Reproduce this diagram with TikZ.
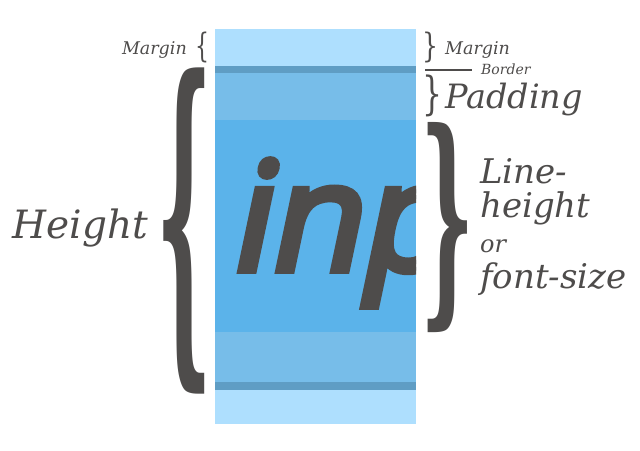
\documentclass[tikz,border=0pt]{standalone}
\usepackage{xcolor}
\usepackage{graphicx}
\usepackage{fontspec}
\usepackage{tikz}
\usetikzlibrary{positioning}

\newfontfamily\labelserif{DejaVu Serif}
\newfontfamily\samplesans{Open Sans}[FakeSlant=0.21, FakeBold=5]

\definecolor{ink}{HTML}{4E4C4B}
\definecolor{marginblue}{HTML}{AEDFFE}
\definecolor{borderblue}{HTML}{5F9DC4}
\definecolor{paddingblue}{HTML}{77BDE9}
\definecolor{contentblue}{HTML}{5BB3EA}

\newcommand{\lblsize}[1]{\fontsize{#1}{#1}\selectfont}

\begin{document}
\begin{tikzpicture}[
    x=1pt, y=-1pt,
    layer/.style={fill=#1, draw=none},
    lbl/.style={text=ink, inner sep=0pt, font=\labelserif\itshape\lblsize{#1}},
    lbl/.default=17.5,
    bracket/.style={text=ink, inner sep=0pt, font=\labelserif\bfseries},
    smallbracket/.style={text=ink, inner sep=0pt, font=\labelserif}
  ]
    \useasboundingbox (0,0) rectangle (640,450);

    % the box, top to bottom
    \fill[layer=marginblue]  (215,29)  rectangle (416,66);
    \fill[layer=borderblue]  (215,66)  rectangle (416,73);
    \fill[layer=paddingblue] (215,73)  rectangle (416,120);
    \fill[layer=contentblue] (215,120) rectangle (416,332);
    \fill[layer=paddingblue] (215,332) rectangle (416,382);
    \fill[layer=borderblue]  (215,382) rectangle (416,390);
    \fill[layer=marginblue]  (215,390) rectangle (416,424);

    \begin{scope}
      \clip (215,29) rectangle (416,424);
      \node[text=ink, inner sep=0pt, anchor=base west,
            font=\samplesans\lblsize{150}] (inp) at (228,270)
            {\makebox[180pt][l]{inp}};
    \end{scope}

    % braces
    \node[smallbracket, anchor=north west] (lmarginbrace) at (195,32) {\resizebox*{14pt}{31pt}{\{}};
    \node[bracket, anchor=north west] (heightbrace) at (156,68) {\resizebox*{56pt}{326pt}{\{}};
    \node[smallbracket, anchor=north west] (rmarginbrace) at (422,32) {\resizebox*{16pt}{31pt}{\}}};
    \node[smallbracket, anchor=north west] (paddingbrace) at (422,75) {\resizebox*{20pt}{42pt}{\}}};
    \node[bracket, anchor=north west] (lhbrace) at (420,122) {\resizebox*{54pt}{210pt}{\}}};

    % labels
    \node[lbl, anchor=base east] (lmargin) at (187,54) {Margin};
    \node[lbl, anchor=base west] (rmargin) at (445,54) {Margin};
    \draw[ink, line width=1.5pt] (425,70) -- (472,70);
    \node[lbl=14, anchor=base west] (border) at (481,74) {Border};
    \node[lbl=33.5, anchor=base west] (padding) at (445,108) {Padding};
    \node[lbl=39, anchor=base east] (height) at (148,238) {Height};
    \node[lbl=34, anchor=base west] (lineh) at (480,183) {Line-};
    \node[lbl=34, anchor=base west] (heighttxt) at (480,217) {height};
    \node[lbl=24, anchor=base west] (ortxt) at (480,252) {or};
    \node[lbl=34, anchor=base west] (fontsize) at (480,288) {font-size};
  \end{tikzpicture}
\end{document}
